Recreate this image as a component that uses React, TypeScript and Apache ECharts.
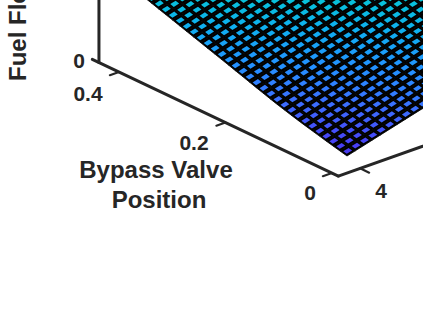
import React, { useEffect, useRef } from "react";
import * as echarts from "echarts";

const bypassStep = 0.0131;
const speedStart = 3.9;
const speedStep = 0.125;
const bypassTicks = [0, 0.2, 0.4];
const speedTicks = [4];
// estimated fuel flow per visible mesh row (bypass index), per speed index; the crop hides the rest
const fuelFlow: number[][] = [
  [11.7,14,16.3,18.6,20.9,23.2,25.5,27.8,30.1,32.4,34.7,37,39.3],
  [13.4,15.7,18,20.3,22.6,24.9,27.2,29.5,31.8,34.1,36.4,38.7,41],
  [15.1,17.4,19.7,22,24.3,26.6,28.9,31.2,33.5,35.8,38.1,40.4,42.7,45],
  [16.8,19.1,21.4,23.7,26,28.3,30.6,32.9,35.2,37.5,39.8,42.1,44.4,46.7,49],
  [18.6,20.9,23.2,25.5,27.8,30.1,32.4,34.7,37,39.3,41.6,43.9,46.2,48.5,50.8,53.1],
  [20.4,22.7,25,27.3,29.6,31.9,34.2,36.5,38.8,41.1,43.4,45.7,48,50.3,52.6,54.9,57.2],
  [22.2,24.5,26.8,29.1,31.4,33.7,36,38.3,40.6,42.9,45.2,47.5,49.8,52.1,54.4,56.7,59,61.3],
  [24.1,26.4,28.7,31,33.3,35.6,37.9,40.2,42.5,44.8,47.1,49.4,51.7,54,56.3,58.6,60.9,63.2],
  [26.1,28.4,30.7,33,35.3,37.6,39.9,42.2,44.5,46.8,49.1,51.4,53.7,56,58.3,60.6,62.9,65.2,67.5],
  [28.1,30.4,32.7,35,37.3,39.6,41.9,44.2,46.5,48.8,51.1,53.4,55.7,58,60.3,62.6,64.9,67.2,69.5,71.8],
  [30.2,32.5,34.8,37.1,39.4,41.7,44,46.3,48.6,50.9,53.2,55.5,57.8,60.1,62.4,64.7,67,69.3,71.6,73.9,76.2],
  [32.4,34.7,37,39.3,41.6,43.9,46.2,48.5,50.8,53.1,55.4,57.7,60,62.3,64.6,66.9,69.2,71.5,73.8,76.1,78.4,80.7],
  [34.7,37,39.3,41.6,43.9,46.2,48.5,50.8,53.1,55.4,57.7,60,62.3,64.6,66.9,69.2,71.5,73.8,76.1,78.4,80.7],
  [37,39.3,41.6,43.9,46.2,48.5,50.8,53.1,55.4,57.7,60,62.3,64.6,66.9,69.2,71.5,73.8,76.1,78.4,80.7],
  [39.4,41.7,44,46.3,48.6,50.9,53.2,55.5,57.8,60.1,62.4,64.7,67,69.3,71.6,73.9,76.2,78.5,80.8],
  [41.8,44.1,46.4,48.7,51,53.3,55.6,57.9,60.2,62.5,64.8,67.1,69.4,71.7,74,76.3,78.6,80.9],
  [44.1,46.4,48.7,51,53.3,55.6,57.9,60.2,62.5,64.8,67.1,69.4,71.7,74,76.3,78.6,80.9],
  [46.5,48.8,51.1,53.4,55.7,58,60.3,62.6,64.9,67.2,69.5,71.8,74.1,76.4,78.7,81],
  [48.8,51.1,53.4,55.7,58,60.3,62.6,64.9,67.2,69.5,71.8,74.1,76.4,78.7,81],
  [51.1,53.4,55.7,58,60.3,62.6,64.9,67.2,69.5,71.8,74.1,76.4,78.7,81],
  [53.4,55.7,58,60.3,62.6,64.9,67.2,69.5,71.8,74.1,76.4,78.7,81],
  [55.7,58,60.3,62.6,64.9,67.2,69.5,71.8,74.1,76.4,78.7,81],
  [58,60.3,62.6,64.9,67.2,69.5,71.8,74.1,76.4,78.7],
  [60.3,62.6,64.9,67.2,69.5,71.8,74.1,76.4,78.7],
  [62.6,64.9,67.2,69.5,71.8,74.1,76.4,78.7],
  [64.9,67.2,69.5,71.8,74.1,76.4,78.7],
  [67.2,69.5,71.8,74.1,76.4,78.7],
  [69.5,71.8,74.1,76.4,78.7],
  [71.8,74.1,76.4,78.7],
  [74.1,76.4,78.7],
];

const parula: number[][] = [
  [62, 38, 168], [72, 62, 245], [60, 110, 255], [35, 145, 255], [15, 175, 240], [5, 198, 212],
];
const ink = "#262626";
const fontFamily = "'Liberation Sans', Arial, sans-serif";
const dashAlongSpeed = 0.64;
const dashAlongBypass = 0.5;

function project(bypass: number, speed: number, fuel: number): number[] {
  return [
    347 - 532.5 * bypass + 67 * (speed - speedStart),
    167.7 - 252.5 * bypass - 23.7 * (speed - speedStart) - fuel,
  ];
}

function fuelColor(z: number): string {
  const p = Math.min(parula.length - 1.001, z / 156 / 0.1);
  const i = Math.floor(p);
  const f = p - i;
  const c = parula[i].map((v, k) => Math.round(v + (parula[i + 1][k] - v) * f));
  return `rgb(${c[0]},${c[1]},${c[2]})`;
}

type Cell = [number, number];
const cells: Cell[] = [];
fuelFlow.forEach((row, a) => {
  if (a + 1 >= fuelFlow.length) return;
  row.forEach((_, b) => {
    if (b + 1 < row.length && b + 1 < fuelFlow[a + 1].length) cells.push([a, b]);
  });
});

const axisSegments: number[][][] = [
  [project(-0.012, 3.675, 0), project(0.45, 3.675, 0)],
  [project(-0.012, 3.675, 0), project(-0.012, 5.2, 0)],
  [project(0.4375, 3.675, 0), project(0.4375, 3.675, 90)],
];

export default function App() {
  const ref = useRef<HTMLDivElement>(null);
  useEffect(() => {
    const chart = echarts.init(ref.current!, undefined, { renderer: "svg" });
    const text = (t: string, x: number, y: number, size: number, rotation = 0, align = "center") => ({
      type: "text", x, y, rotation,
      style: { text: t, fill: ink, font: `bold ${size}px ${fontFamily}`, textAlign: align, textVerticalAlign: "middle" },
    });
    const tickData: number[][][] = [
      ...bypassTicks.map((b) => [project(b, 3.675, 0), project(b, 3.54, 0)]),
      ...speedTicks.map((s) => [project(-0.012, s, 0), project(-0.029, s, 0)]),
    ];
    chart.setOption({
      animation: false,
      grid: { left: 0, right: 0, top: 0, bottom: 0 },
      xAxis: { type: "value", min: 0, max: 423, show: false },
      yAxis: { type: "value", min: 0, max: 317, inverse: true, show: false },
      series: [
        {
          type: "custom", coordinateSystem: "cartesian2d", silent: true,
          data: cells,
          renderItem: (_p: any, api: any) => {
            const a = api.value(0), b = api.value(1);
            const z00 = fuelFlow[a][b], z01 = fuelFlow[a][b + 1], z10 = fuelFlow[a + 1][b], z11 = fuelFlow[a + 1][b + 1];
            // point at fractions u (speed) and v (bypass) across this mesh cell
            const at = (u: number, v: number) => {
              const z = z00 * (1 - u) * (1 - v) + z01 * u * (1 - v) + z10 * (1 - u) * v + z11 * u * v;
              return api.coord(project((a + v) * bypassStep, speedStart + (b + u) * speedStep, z));
            };
            const u0 = 0.5 - dashAlongSpeed / 2, u1 = 0.5 + dashAlongSpeed / 2;
            const v0 = 0.5 - dashAlongBypass / 2, v1 = 0.5 + dashAlongBypass / 2;
            return {
              type: "group",
              children: [
                {
                  type: "polygon", shape: { points: [at(0, 0), at(1, 0), at(1, 1), at(0, 1)] },
                  style: { fill: "#000", stroke: "#000", lineWidth: 0.8, lineJoin: "miter" },
                },
                {
                  type: "polygon", shape: { points: [at(u0, v0), at(u1, v0), at(u1, v1), at(u0, v1)] },
                  style: { fill: fuelColor((z00 + z01 + z10 + z11) / 4) },
                },
              ],
            };
          },
        },
        ...[...axisSegments.map((s) => ({ s, w: 3 })), ...tickData.map((s) => ({ s, w: 2.2 }))].map(({ s, w }) => ({
          type: "line", silent: true, symbol: "none", data: s,
          lineStyle: { color: ink, width: w, cap: "round" },
        })),
      ],
      graphic: [
        text("0", 79, 60, 21),
        text("0.4", 88, 93, 21),
        text("0.2", 194, 142, 21),
        text("0", 310, 192, 21),
        text("4", 381, 190, 21),
        text("Bypass Valve", 156, 169, 24),
        text("Position", 159, 199, 24),
        text("Fuel Flow", 17, 81, 24, Math.PI / 2, "left"),
      ],
    });
    return () => chart.dispose();
  }, []);
  return <div ref={ref} style={{ position: "absolute", left: 0, top: 0, width: 423, height: 317 }} />;
}
